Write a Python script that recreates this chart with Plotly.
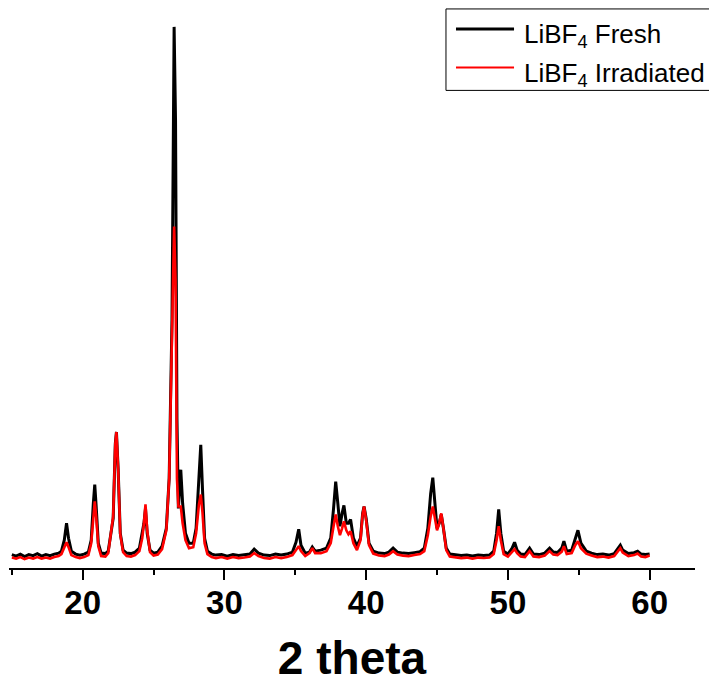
import plotly.graph_objects as go

# 2-theta positions (degrees) and intensities (a.u.)
fresh_2theta = [15.0, 15.3, 15.6, 15.9, 16.2, 16.5, 16.8, 17.1, 17.4, 17.7, 18.0, 18.3,
                18.5, 18.7, 18.86, 19.0, 19.2, 19.5, 19.8, 20.1, 20.4,
                20.6, 20.75, 20.85, 20.95, 21.1, 21.3, 21.6, 21.8, 21.95, 22.15, 22.3, 22.38,
                22.5, 22.65, 22.85, 23.1, 23.4, 23.7, 24.0, 24.2, 24.32, 24.43, 24.55, 24.75,
                25.0, 25.3, 25.6, 25.9, 26.1, 26.3, 26.45, 26.55, 26.65, 26.75, 26.92, 27.05,
                27.25, 27.5, 27.8, 28.0, 28.2, 28.33, 28.45, 28.6, 28.8, 29.1, 29.4, 29.8,
                30.2, 30.6, 31.0, 31.4, 31.8, 32.1, 32.4, 32.8, 33.2, 33.6, 34.0, 34.4, 34.8,
                35.05, 35.24, 35.4, 35.7, 36.0, 36.2, 36.4, 36.8, 37.2, 37.5, 37.7, 37.85,
                38.0, 38.15, 38.3, 38.43, 38.6, 38.75, 38.9, 39.1, 39.35, 39.6, 39.75, 39.85,
                40.0, 40.2, 40.5, 40.9, 41.3, 41.6, 41.9, 42.2, 42.6, 43.0, 43.4, 43.8, 44.1,
                44.35, 44.55, 44.7, 44.85, 45.0, 45.15, 45.3, 45.45, 45.65, 45.9, 46.3, 46.7,
                47.1, 47.5, 47.9, 48.3, 48.7, 49.0, 49.2, 49.35, 49.5, 49.7, 50.0, 50.3, 50.47,
                50.65, 50.9, 51.2, 51.53, 51.8, 52.2, 52.6, 52.94, 53.2, 53.5, 53.8, 53.95,
                54.15, 54.5, 54.75, 54.94, 55.15, 55.53, 55.9, 56.3, 56.7, 57.1, 57.5, 57.8,
                57.93, 58.1, 58.5, 58.9, 59.15, 59.4, 59.7, 60.0]
fresh_counts = [135, 120, 140, 115, 135, 125, 145, 120, 135, 125, 140, 150,
                170, 280, 450, 300, 170, 140, 130, 140, 160,
                280, 650, 840, 620, 250, 150, 145, 170, 300, 500, 1250, 1370,
                1000, 350, 180, 150, 145, 160, 200, 350, 450, 600, 350, 180,
                150, 160, 220, 400, 900, 2500, 5450, 4500, 1500, 600, 990, 650,
                350, 250, 250, 400, 900, 1240, 800, 300, 170, 140, 130, 135,
                120, 135, 125, 130, 140, 190, 150, 130, 125, 140, 130, 140, 160,
                260, 390, 230, 150, 160, 210, 170, 180, 200, 300, 600, 870,
                650, 420, 550, 630, 450, 450, 490, 300, 220, 300, 550, 620,
                500, 250, 170, 150, 145, 160, 200, 160, 150, 145, 155, 165, 200,
                400, 750, 910, 650, 400, 450, 540, 400, 200, 140, 130, 125,
                130, 120, 130, 125, 130, 170, 350, 590, 350, 170, 140, 200, 260,
                180, 140, 135, 200, 140, 135, 150, 200, 160, 155, 200, 270,
                170, 180, 300, 380, 250, 170, 150, 135, 140, 130, 145, 200,
                230, 180, 145, 155, 170, 140, 135, 140]

irr_2theta = fresh_2theta
irr_counts = [105, 95, 110, 90, 105, 95, 110, 95, 105, 95, 110, 120,
              140, 200, 260, 210, 130, 110, 100, 110, 130,
              250, 550, 670, 520, 220, 120, 115, 150, 300, 520, 1250, 1370,
              1000, 340, 160, 120, 115, 130, 170, 300, 450, 640, 380, 160,
              125, 135, 190, 380, 900, 2200, 3440, 2900, 900, 620, 620, 450,
              280, 200, 210, 350, 640, 740, 560, 250, 140, 110, 100, 110,
              95, 110, 100, 105, 115, 150, 120, 100, 95, 110, 100, 110, 130,
              180, 220, 170, 120, 150, 200, 150, 150, 170, 250, 420, 540,
              420, 330, 400, 470, 380, 340, 370, 250, 180, 280, 540, 620,
              480, 230, 145, 125, 120, 135, 170, 135, 125, 120, 130, 140, 170,
              330, 520, 620, 500, 380, 450, 550, 400, 180, 115, 105, 100,
              105, 95, 105, 100, 105, 140, 280, 420, 280, 140, 115, 160, 190,
              150, 115, 110, 170, 115, 110, 125, 170, 135, 130, 165, 220,
              140, 150, 230, 270, 200, 145, 125, 110, 115, 105, 120, 170,
              200, 155, 120, 130, 145, 115, 110, 125]

series_names = ["LiBF<sub>4</sub> Fresh", "LiBF<sub>4</sub> Irradiated"]
series_colors = ["#000000", "#ff0000"]
x_ticks = [20, 30, 40, 50, 60]

fig = go.Figure()
fig.add_trace(go.Scatter(x=fresh_2theta, y=fresh_counts, mode="lines",
                         line=dict(color=series_colors[0], width=3),
                         name=series_names[0], showlegend=False))
fig.add_trace(go.Scatter(x=irr_2theta, y=irr_counts, mode="lines",
                         line=dict(color=series_colors[1], width=2.6),
                         name=series_names[1], showlegend=False))

# manual legend box (frame, line samples and labels)
fig.add_shape(type="rect", xref="paper", yref="paper", x0=0.637, x1=1.05, y0=0.859, y1=1.0055,
              line=dict(color="#000000", width=1), fillcolor="white", layer="above")
legend_rows_y = [0.9696, 0.9]
for i, (nm, col) in enumerate(zip(series_names, series_colors)):
    fig.add_shape(type="line", xref="paper", yref="paper", x0=0.6516, x1=0.7362,
                  y0=legend_rows_y[i], y1=legend_rows_y[i],
                  line=dict(color=col, width=3 if i == 0 else 2), layer="above")
    fig.add_annotation(xref="paper", yref="paper", x=0.7475, y=legend_rows_y[i] - 0.012,
                       text=nm, showarrow=False, xanchor="left", yanchor="middle",
                       font=dict(family="Liberation Sans, Arial", size=26, color="black"))

fig.update_layout(
    width=709, height=684,
    margin=dict(l=9, r=14, t=12, b=112),
    paper_bgcolor="white", plot_bgcolor="white",
    xaxis=dict(range=[14.8, 63.2], tickvals=x_ticks, showgrid=False, zeroline=False,
               showline=True, linecolor="black", linewidth=2,
               ticks="outside", ticklen=10, tickwidth=2, tickcolor="black",
               ticklabelstandoff=-6,
               minor=dict(ticks="outside", ticklen=5, tickwidth=2, tickcolor="black",
                          dtick=5, tick0=0, showgrid=False),
               tickfont=dict(family="Liberation Sans, Arial", size=33, color="black", weight="bold"),
               title=dict(text="2 theta", standoff=22,
                          font=dict(family="Liberation Sans, Arial", size=46, color="black",
                                    weight="bold"))),
    yaxis=dict(range=[0, 5600], visible=False, showgrid=False, zeroline=False),
)

fig.write_html("out.html")
